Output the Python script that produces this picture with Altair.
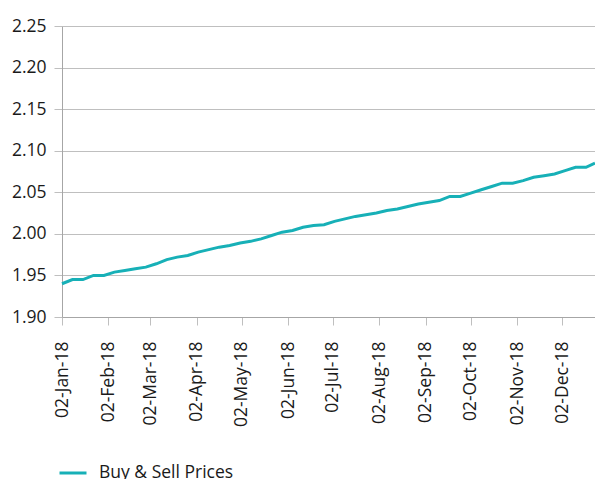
import altair as alt
import pandas as pd

dates = [
    "2018-01-02", "2018-01-09", "2018-01-16", "2018-01-23", "2018-01-30",
    "2018-02-06", "2018-02-13", "2018-02-20", "2018-02-27",
    "2018-03-06", "2018-03-13", "2018-03-20", "2018-03-27",
    "2018-04-03", "2018-04-10", "2018-04-17", "2018-04-24",
    "2018-05-01", "2018-05-08", "2018-05-15", "2018-05-22", "2018-05-29",
    "2018-06-05", "2018-06-12", "2018-06-19", "2018-06-26",
    "2018-07-03", "2018-07-10", "2018-07-17", "2018-07-24", "2018-07-31",
    "2018-08-07", "2018-08-14", "2018-08-21", "2018-08-28",
    "2018-09-04", "2018-09-11", "2018-09-18", "2018-09-25",
    "2018-10-02", "2018-10-09", "2018-10-16", "2018-10-23", "2018-10-30",
    "2018-11-06", "2018-11-13", "2018-11-20", "2018-11-27",
    "2018-12-04", "2018-12-11", "2018-12-18", "2018-12-24",
]
prices = [
    1.940, 1.945, 1.945, 1.950, 1.950,
    1.954, 1.956, 1.958, 1.960,
    1.964, 1.969, 1.972, 1.974,
    1.978, 1.981, 1.984, 1.986,
    1.989, 1.991, 1.994, 1.998, 2.002,
    2.004, 2.008, 2.010, 2.011,
    2.015, 2.018, 2.021, 2.023, 2.025,
    2.028, 2.030, 2.033, 2.036,
    2.038, 2.040, 2.045, 2.045,
    2.049, 2.053, 2.057, 2.061, 2.061,
    2.064, 2.068, 2.070, 2.072,
    2.076, 2.080, 2.080, 2.085,
]
series_name = "Buy & Sell Prices"
y_ticks = [1.90, 1.95, 2.00, 2.05, 2.10, 2.15, 2.20, 2.25]
tick_months = list(range(1, 13))

df = pd.DataFrame({"date": dates, "price": prices, "series": series_name})

FONT = "Open Sans"
x_values = [alt.DateTime(year=2018, month=m, date=2, utc=True) for m in tick_months]

chart = (
    alt.Chart(df)
    .mark_line(strokeWidth=3)
    .encode(
        x=alt.X(
            "date:T",
            scale=alt.Scale(
                type="utc",
                domain=[
                    alt.DateTime(year=2018, month=1, date=2, utc=True),
                    alt.DateTime(year=2018, month=12, date=24, utc=True),
                ],
                nice=False,
            ),
            axis=alt.Axis(
                title=None,
                values=x_values,
                labelExpr="utcFormat(datum.value, '%d-%b-%y')",
                labelAngle=-90,
                grid=False,
                ticks=True,
                tickSize=8,
                tickColor="#BFBFBF",
                domainColor="#A6A6A6",
                labelPadding=16,
                labelFont=FONT,
                labelFontSize=17.5,
                labelColor="#1a1a1a",
            ),
        ),
        y=alt.Y(
            "price:Q",
            scale=alt.Scale(domain=[1.90, 2.25], nice=False, zero=False),
            axis=alt.Axis(
                title=None,
                values=y_ticks,
                format=".2f",
                grid=True,
                gridColor="#BFBFBF",
                gridWidth=1,
                ticks=True,
                tickSize=8,
                tickColor="#BFBFBF",
                domainColor="#A6A6A6",
                labelPadding=8,
                labelFont=FONT,
                labelFontSize=17.5,
                labelColor="#1a1a1a",
            ),
        ),
        color=alt.Color(
            "series:N",
            scale=alt.Scale(range=["#17B0B7"]),
            legend=alt.Legend(
                title=None,
                orient="none",
                legendX=-4,
                legendY=432,
                symbolType="stroke",
                symbolSize=729,
                symbolStrokeWidth=3,
                labelOffset=11,
                labelFont=FONT,
                labelFontSize=17.5,
                labelColor="#1a1a1a",
                padding=0,
            ),
        ),
    )
    .properties(
        width=533,
        height=291,
        autosize=alt.AutoSizeParams(type="none"),
        padding={"left": 62, "top": 26, "right": 0, "bottom": 162},
    )
    .configure_view(stroke=None)
)

chart.save("out.html", embed_options={"renderer": "svg", "actions": False})
